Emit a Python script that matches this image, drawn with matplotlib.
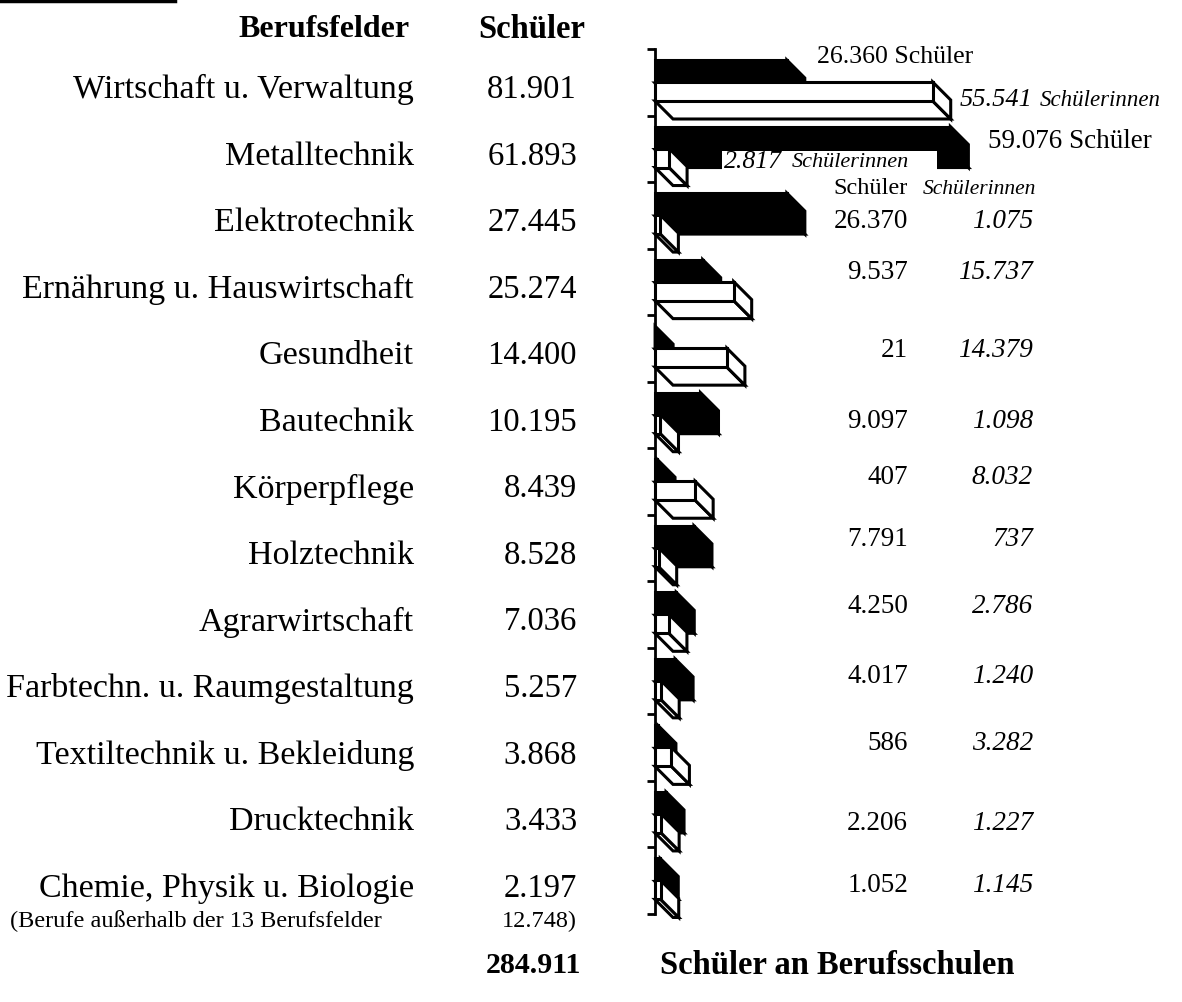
import matplotlib
matplotlib.use("Agg")
import matplotlib.pyplot as plt
from matplotlib.patches import Polygon, Rectangle
from matplotlib.lines import Line2D

plt.rcParams['font.family'] = ['Liberation Serif', 'DejaVu Serif']

# Schüler an Berufsschulen nach Berufsfeldern
berufsfelder = ["Wirtschaft u. Verwaltung", "Metalltechnik", "Elektrotechnik",
                "Ernährung u. Hauswirtschaft", "Gesundheit", "Bautechnik",
                "Körperpflege", "Holztechnik", "Agrarwirtschaft",
                "Farbtechn. u. Raumgestaltung", "Textiltechnik u. Bekleidung",
                "Drucktechnik", "Chemie, Physik u. Biologie"]
schueler_gesamt = [81901, 61893, 27445, 25274, 14400, 10195, 8439, 8528,
                   7036, 5257, 3868, 3433, 2197]
schueler_m = [26360, 59076, 26370, 9537, 21, 9097, 407, 7791, 4250, 4017,
              586, 2206, 1052]
schueler_w = [55541, 2817, 1075, 15737, 14379, 1098, 8032, 737, 2786, 1240,
              3282, 1227, 1145]
sonstige = 12748
summe = 284911


def de(v):
    return f"{v:,}".replace(",", ".")


W, H = 1182, 1003
fig = plt.figure(figsize=(W / 100, H / 100), dpi=100)
fig.patch.set_facecolor("white")


def put(x, y, s, **kw):
    kw.setdefault("va", "center")
    fig.text(x / W, 1 - y / H, s, **kw)


# bar axes: value axis to the right, one row per Berufsfeld
x0, y_top, y_bot = 655, 50, 915
px_per_1000 = 5.0
row_px = (y_bot - y_top) / len(berufsfelder)
ax = fig.add_axes([x0 / W, 1 - y_bot / H, (W - x0) / W, (y_bot - y_top) / H])
ax.set_xlim(0, (W - x0) / px_per_1000 * 1000)
ax.set_ylim(len(berufsfelder), 0)
ax.set_facecolor("none")
for s in ("top", "right", "bottom"):
    ax.spines[s].set_visible(False)
ax.spines["left"].set_linewidth(2)
ax.set_xticks([])
ax.set_yticks(range(len(berufsfelder) + 1))
ax.set_yticklabels([])
ax.tick_params(axis="y", direction="out", length=6, width=2)

# depth of the pseudo-3D boxes
dx = 18 / px_per_1000 * 1000
dy = 18 / row_px


def box(v, top, h, face):
    front = [(0, top), (v, top), (v, top + h), (0, top + h)]
    bottom = [(0, top + h), (v, top + h), (v + dx, top + h + dy), (dx, top + h + dy)]
    side = [(v, top), (v + dx, top + dy), (v + dx, top + h + dy), (v, top + h)]
    for pts in (bottom, side, front):
        ax.add_patch(Polygon(pts, closed=True, facecolor=face, edgecolor="black",
                             linewidth=2.2, joinstyle="miter", clip_on=False))


for i in range(len(berufsfelder)):
    box(schueler_m[i], i + 11 / row_px, 23 / row_px, "black")
    box(schueler_w[i], i + 33 / row_px, 19 / row_px, "white")

# left table
put(410, 30, "Berufsfelder", ha="right", weight="bold", size=23)
put(585, 30, "Schüler", ha="right", weight="bold", size=23.5)
for i, name in enumerate(berufsfelder):
    y = y_top + row_px * (i + 0.6)
    put(414, y, name, ha="right", size=24.5)
    put(577, y, de(schueler_gesamt[i]), ha="right", size=23.5)
put(10, 921, "(Berufe außerhalb der 13 Berufsfelder", ha="left", size=17.5)
put(577, 921, de(sonstige) + ")", ha="right", size=17.5)
put(581, 966, de(summe), ha="right", weight="bold", size=21.5)
put(660, 966, "Schüler an Berufsschulen", ha="left", weight="bold", size=23.5)

# labels for the two largest fields
put(817, 57, de(schueler_m[0]) + " Schüler", ha="left", size=18.5)
put(960, 100, de(schueler_w[0]), ha="left", style="italic", size=19)
put(1040, 101, "Schülerinnen", ha="left", style="italic", size=16.5)
put(988, 141, de(schueler_m[1]) + " Schüler", ha="left", size=19.5)
fig.add_artist(Rectangle((722 / W, 1 - 172 / H), 215 / W, 20 / H,
                         transform=fig.transFigure, facecolor="white",
                         edgecolor="none", zorder=3))
put(724, 162, de(schueler_w[1]), ha="left", style="italic", size=18.5, zorder=4)
put(792, 163, "Schülerinnen", ha="left", style="italic", size=16, zorder=4)

# value columns for the remaining fields
put(908, 189, "Schüler", ha="right", size=17.5)
put(1036, 189, "Schülerinnen", ha="right", style="italic", size=15.5)
label_dy = [0.58, 0.35, 0.51, 0.59, 0.42, 0.36, 0.37, 0.41, 0.43, 0.62, 0.55]
for k, i in enumerate(range(2, len(berufsfelder))):
    y = y_top + row_px * (i + label_dy[k])
    put(908, y, de(schueler_m[i]), ha="right", size=19.5)
    put(1033, y, de(schueler_w[i]), ha="right", style="italic", size=19.5)

# rule at the top edge
fig.add_artist(Line2D([0, 175 / W], [1 - 1.5 / H, 1 - 1.5 / H], color="black",
                      linewidth=2.5, transform=fig.transFigure))

fig.savefig("out.png", dpi=100, facecolor="white")
